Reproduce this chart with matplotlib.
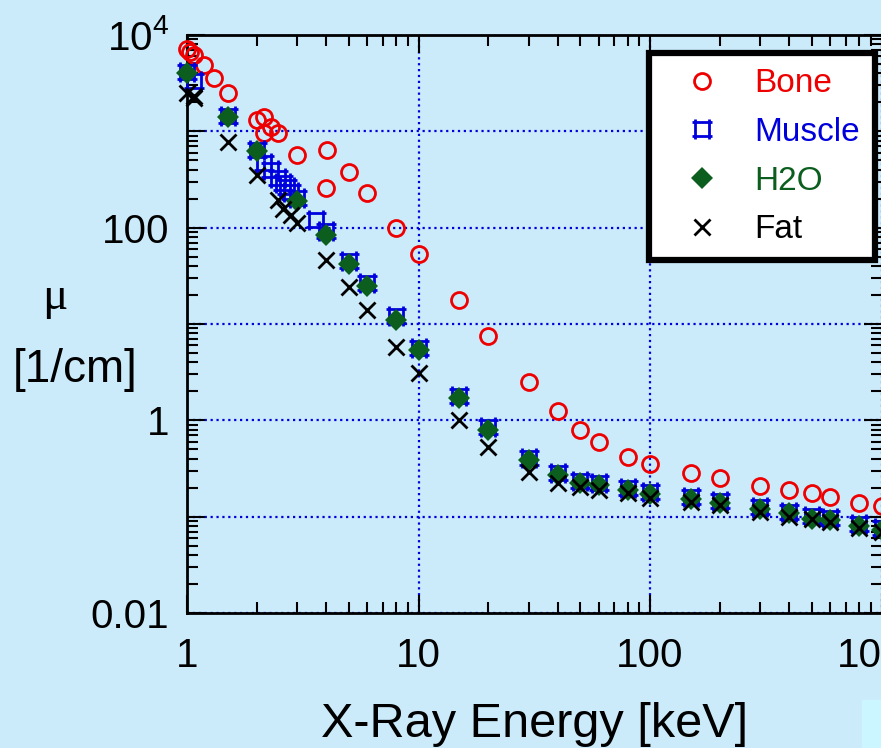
import matplotlib
matplotlib.use("Agg")
import matplotlib.pyplot as plt
from matplotlib.path import Path
from matplotlib.patches import Rectangle
from matplotlib.ticker import LogLocator, FixedLocator, FuncFormatter, NullFormatter

# energies [keV] and attenuation coefficients [1/cm]
bone_e = [1.0, 1.035, 1.072, 1.18, 1.305, 1.5, 2.0, 2.145, 2.145, 2.3, 2.472,
          3.0, 4.0, 4.038, 5.0, 6.0, 8.0, 10, 15, 20, 30, 40, 50, 60, 80, 100,
          150, 200, 300, 400, 500, 600, 800, 1000]
bone_mu = [7100, 6700, 6200, 4880, 3550, 2520, 1310, 953, 1420, 1117, 953,
           568, 256, 640, 380, 227, 100, 52.9, 17.7, 7.48, 2.51, 1.26, 0.79, 0.589, 0.418, 0.348,
           0.281, 0.249, 0.209, 0.188, 0.177, 0.161, 0.140, 0.129]

muscle_e = [1.0, 1.072, 1.5, 2.0, 2.145, 2.3, 2.472, 2.6, 2.7, 2.822, 3.0, 3.607,
            4.0, 5, 6, 8, 10, 15, 20, 30, 40, 50, 60, 80, 100,
            150, 200, 300, 400, 500, 600, 800, 1000]
muscle_mu = [4100, 3300, 1450, 640, 466, 396, 325, 288, 266, 236, 205, 120,
             92, 45, 26.5, 12.0, 5.7, 1.79, 0.86, 0.405, 0.284, 0.236, 0.222, 0.200, 0.179,
             0.160, 0.144, 0.125, 0.113, 0.101, 0.096, 0.084, 0.076]

water_e = [1, 1.5, 2, 3, 4, 5, 6, 8, 10, 15, 20, 30, 40, 50, 60, 80, 100,
           150, 200, 300, 400, 500, 600, 800, 1000]
water_mu = [4060, 1420, 630, 189, 83.8, 41.6, 24.9, 11.0, 5.36, 1.69, 0.803, 0.386, 0.270,
            0.224, 0.212, 0.191, 0.170, 0.152, 0.137, 0.119, 0.108, 0.0957, 0.092, 0.080, 0.0725]

fat_e = [1.0, 1.072, 1.072, 1.5, 2.0, 2.472, 2.6, 2.8, 3.0, 4.0, 5, 6, 8, 10, 15, 20,
         30, 40, 50, 60, 80, 100, 150, 200, 300, 400, 500, 600, 800, 1000]
fat_mu = [2480, 2200, 2350, 780, 355, 194, 158, 135, 111, 46.2, 24.3, 13.9, 5.8, 3.07, 1.0, 0.531,
          0.292, 0.221, 0.204, 0.191, 0.174, 0.157, 0.143, 0.132, 0.112, 0.0995, 0.0935, 0.0883,
          0.0754, 0.0695]

labels = ["Bone", "Muscle", "H2O", "Fat"]
colors = ["#EE0000", "#0000DD", "#0B5E1E", "black"]

bg = "#CBEBFB"
plt.rcParams["font.family"] = ["Liberation Sans", "DejaVu Sans"]
plt.rcParams["mathtext.fontset"] = "custom"
plt.rcParams["mathtext.rm"] = "Liberation Sans"

# square with the edges running a bit past the corners
s, e = 1.0, 1.35
square_hash = Path(
    [(-e, s), (e, s), (-e, -s), (e, -s), (-s, -e), (-s, e), (s, -e), (s, e)],
    [Path.MOVETO, Path.LINETO] * 4)

fig = plt.figure(figsize=(8.81, 7.48), dpi=100, facecolor=bg)
ax = fig.add_axes([187 / 881, 1 - 613 / 748, 694.5 / 881, 578 / 748], facecolor=bg)
fig.add_artist(Rectangle((862 / 881, 0), 19 / 881, 48 / 748, transform=fig.transFigure,
                         color="#CCF6FF", zorder=0))

ax.plot(bone_e, bone_mu, "o", ms=11.5, mew=2, mfc="none", mec=colors[0],
        label=labels[0], clip_on=False, zorder=3)
ax.plot(muscle_e, muscle_mu, linestyle="none", marker=square_hash, ms=14.5, mew=2,
        mfc="none", mec=colors[1], label=labels[1], clip_on=False, zorder=4)
ax.plot(water_e, water_mu, "D", ms=11, mew=0, color=colors[2],
        label=labels[2], clip_on=False, zorder=5)
ax.plot(fat_e, fat_mu, "x", ms=11.5, mew=2, color=colors[3],
        label=labels[3], clip_on=False, zorder=6)

ax.set_xscale("log")
ax.set_yscale("log")
ax.set_xlim(1, 1000)
ax.set_ylim(0.01, 1e4)

ax.yaxis.set_major_locator(FixedLocator([0.01, 0.1, 1, 10, 100, 1000, 1e4]))
ylab = {0.01: "0.01", 1: "1", 100: "100", 1e4: r"$\mathregular{10^4}$"}
ax.yaxis.set_major_formatter(FuncFormatter(lambda v, p: ylab.get(round(v, 4), "")))
ax.yaxis.set_minor_locator(LogLocator(base=10, subs=range(2, 10), numticks=20))
ax.yaxis.set_minor_formatter(NullFormatter())
ax.xaxis.set_major_locator(FixedLocator([1, 10, 100, 1000]))
ax.xaxis.set_major_formatter(FuncFormatter(lambda v, p: "%d" % round(v)))
ax.xaxis.set_minor_locator(LogLocator(base=10, subs=range(2, 10), numticks=20))
ax.xaxis.set_minor_formatter(NullFormatter())

ax.tick_params(which="both", direction="in", top=True, right=True, width=1.5, colors="black")
ax.tick_params(which="major", length=13, labelsize=29)
ax.tick_params(which="minor", length=8)
ax.tick_params(axis="y", which="major", pad=13)
ax.tick_params(axis="x", which="major", pad=17)
for sp in ax.spines.values():
    sp.set_linewidth(2)

ax.grid(which="major", color="#0000DD", linestyle=":", linewidth=1.6, zorder=1)
ax.set_axisbelow(True)

ax.set_xlabel("X-Ray Energy [keV]", fontsize=35, labelpad=20)
fig.text(55 / 881, 1 - 298 / 748, "\u03bc", fontsize=34, family="Liberation Serif",
         ha="center", va="center")
fig.text(75 / 881, 1 - 370 / 748, "[1/cm]", fontsize=33, ha="center", va="center")

leg = ax.legend(loc="upper right", bbox_to_anchor=(0.991, 0.968), fontsize=24,
                fancybox=False, framealpha=1, borderpad=0.45, labelspacing=0.53,
                handlelength=2.3, handletextpad=0.42, borderaxespad=0)
leg.get_frame().set_edgecolor("black")
leg.get_frame().set_linewidth(4.5)
for t, c in zip(leg.get_texts(), colors):
    t.set_color(c)

fig.savefig("out.png", dpi=100, facecolor=bg)
